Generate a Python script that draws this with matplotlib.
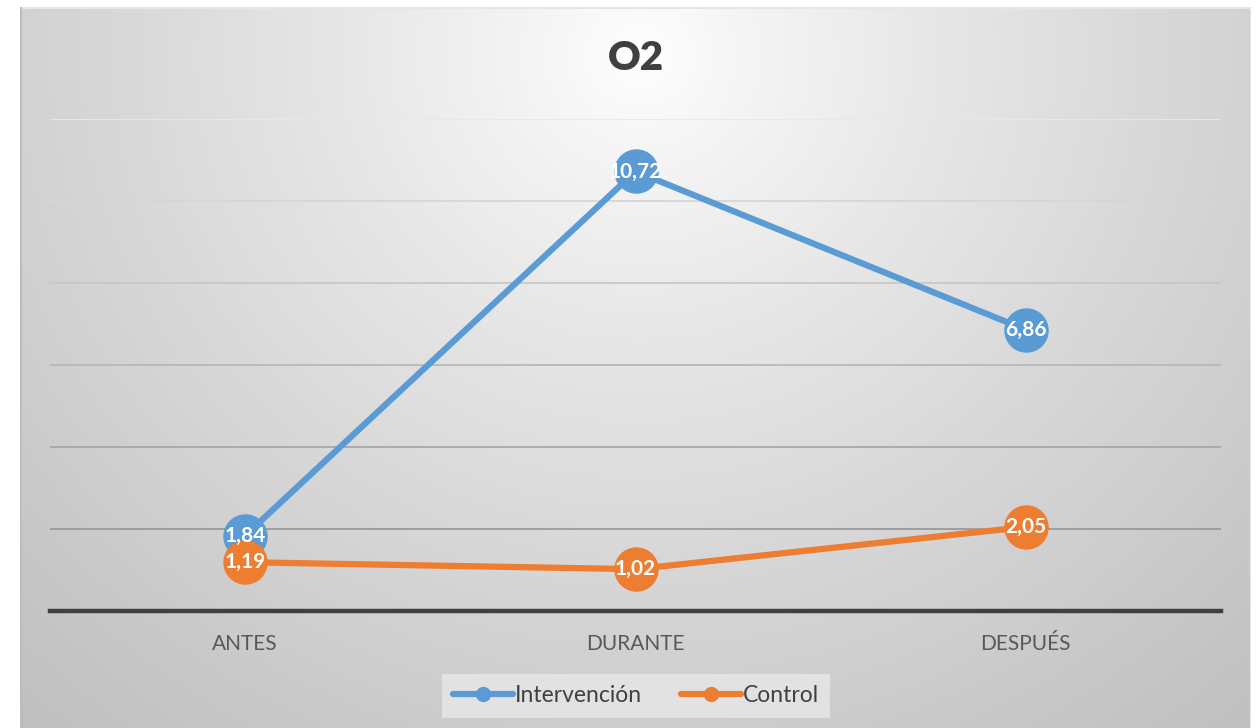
import numpy as np
import matplotlib
matplotlib.use("Agg")
import matplotlib.pyplot as plt
from matplotlib.lines import Line2D

categories = ["ANTES", "DURANTE", "DESPUÉS"]
intervencion = [1.84, 10.72, 6.86]
control = [1.19, 1.02, 2.05]
labels_int = ["1,84", "10,72", "6,86"]
labels_ctl = ["1,19", "1,02", "2,05"]
series_names = ["Intervención", "Control"]
title = "O2"

BLUE = "#5b9bd5"
ORANGE = "#ed7d31"
FONT = ["Lato", "DejaVu Sans"]

W, H = 1258, 728
fig = plt.figure(figsize=(W / 100, H / 100), dpi=100)
fig.patch.set_facecolor("white")

# background chart area with radial gradient
bx0, bx1, by0, by1 = 20, 1251, 7, 728
bg = fig.add_axes([bx0 / W, 1 - by1 / H, (bx1 - bx0) / W, (by1 - by0) / H], zorder=0)
nx, ny = bx1 - bx0, by1 - by0
xx, yy = np.meshgrid(np.arange(nx), np.arange(ny))
cx, cy = 640 - bx0, 55 - by0
d = np.sqrt(((xx - cx) / 1.0) ** 2 + ((yy - cy) / 0.95) ** 2)
dmax = np.sqrt(cx ** 2 + (ny - cy) ** 2 / 0.95 ** 2)
v = 255 - 64 * np.clip(d / dmax, 0, 1) ** 0.85
img = np.dstack([v, v, v]) / 255.0
bg.imshow(img, aspect="auto", extent=(0, nx, ny, 0), interpolation="bilinear")
bg.set_xlim(0, nx)
bg.set_ylim(ny, 0)
bg.axis("off")
bg.add_line(Line2D([0, nx], [0.5, 0.5], color="#e6e6e6", lw=1.5))
bg.add_line(Line2D([0.5, 0.5], [0, ny], color="#bdbdbd", lw=1.5))
bg.add_line(Line2D([nx - 0.5, nx - 0.5], [0, ny], color="#e6e6e6", lw=1.5))

# plot area
px0, px1, py0, py1 = 50, 1221, 119, 611
ax = fig.add_axes([px0 / W, 1 - py1 / H, (px1 - px0) / W, (py1 - py0) / H], zorder=1)
ax.patch.set_alpha(0)
x = np.arange(len(categories))
ax.set_xlim(-0.5, len(categories) - 0.5)
ax.set_ylim(0, 12)
ax.set_yticks(np.arange(0, 13, 2))
ax.tick_params(axis="y", left=False, labelleft=False)
ax.tick_params(axis="x", bottom=False, pad=13)
ax.set_xticks(x)
ax.set_xticklabels(categories, fontsize=15, color="#595959", family=FONT)
for s in ["top", "right", "left"]:
    ax.spines[s].set_visible(False)
ax.spines["bottom"].set_color("#404040")
ax.spines["bottom"].set_linewidth(3.2)
ax.spines["bottom"].set_zorder(3)

grid_colors = ["#404040", "#9a9a9a", "#a8a8a8", "#b8b8b8", "#c8c8c8", "#d6d6d6", "#e8e8e8"]
for yv, c in zip(np.arange(0, 13, 2), grid_colors):
    if yv == 0:
        continue
    ax.axhline(yv, color=c, lw=1.3, zorder=1)

ax.plot(x, intervencion, color=BLUE, lw=4.5, marker="o", ms=31,
        markerfacecolor=BLUE, markeredgecolor=BLUE, zorder=4, solid_capstyle="round")
ax.plot(x, control, color=ORANGE, lw=4.5, marker="o", ms=31,
        markerfacecolor=ORANGE, markeredgecolor=ORANGE, zorder=5, solid_capstyle="round")

for xi, yi, t in zip(x, intervencion, labels_int):
    ax.text(xi, yi, t, ha="center", va="center", color="white", fontsize=15,
            fontweight="bold", family=FONT, zorder=6)
for xi, yi, t in zip(x, control, labels_ctl):
    ax.text(xi, yi, t, ha="center", va="center", color="white", fontsize=15,
            fontweight="bold", family=FONT, zorder=7)

fig.text(636 / W, 1 - 58 / H, title, ha="center", va="center", fontsize=29,
         fontweight="heavy", color="#404040", family=FONT)

handles = [
    Line2D([], [], color=BLUE, lw=4.5, marker="o", ms=10, solid_capstyle="round"),
    Line2D([], [], color=ORANGE, lw=4.5, marker="o", ms=10, solid_capstyle="round"),
]
leg = fig.legend(handles, series_names, loc="center", bbox_to_anchor=(636 / W, 1 - 696 / H),
                 ncol=2, frameon=True, fancybox=False, facecolor="#e2e2e2", edgecolor="none",
                 framealpha=1, handlelength=2.6, handletextpad=0.1, columnspacing=1.7,
                 borderpad=0.5, prop={"family": FONT, "size": 16.5})
for t in leg.get_texts():
    t.set_color("#404040")

fig.savefig("out.png", dpi=100)
